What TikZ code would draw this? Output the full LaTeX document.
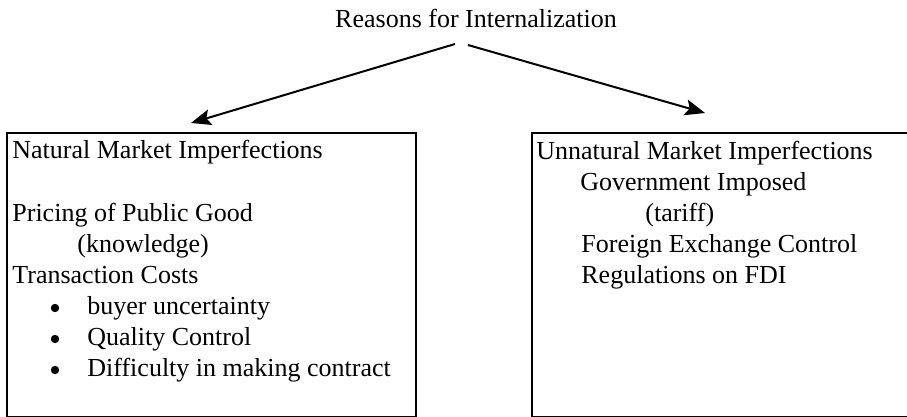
\documentclass[tikz,border=0pt]{standalone}
\usepackage{fontspec}
\setmainfont{Liberation Serif}
\usetikzlibrary{arrows.meta}

\begin{document}
\begin{tikzpicture}[x=0.5pt, y=-0.5pt,
	box/.style={draw, line width=1pt, anchor=north west, inner sep=0pt, minimum height=142pt},
	txt/.style={anchor=base west, inner sep=0pt, font=\fontsize{13}{15.5}\selectfont},
	dot/.style={circle, fill, inner sep=0pt, minimum size=4.2pt},
	arr/.style={line width=1pt, -{Stealth[length=10pt, width=8pt, inset=2pt]}}]
	\clip (0, 0) rectangle (907, 417);

	\node[txt, anchor=base] (reasons) at (476, 28) {Reasons for Internalization};

	\node[box, minimum width=204.5pt] (natural) at (6, 132) {};
	\node[box, minimum width=205pt] (unnatural) at (531, 132) {};

	\coordinate (natStart) at (455, 44);
	\coordinate (natTip) at (191, 123);
	\coordinate (unnatStart) at (468, 45);
	\coordinate (unnatTip) at (705, 113);

	\draw[arr] (natStart) -- (natTip);
	\draw[arr] (unnatStart) -- (unnatTip);

	\node[txt] (natHead) at (12, 159) {Natural Market Imperfections};
	\node[txt] (pricing) at (12, 222) {Pricing of Public Good};
	\node[txt] (knowledge) at (77, 253) {(knowledge)};
	\node[txt] (transaction) at (12, 284) {Transaction Costs};
	\node[dot] (bulletA) at (55, 308) {};
	\node[txt] (buyer) at (87, 315) {buyer uncertainty};
	\node[dot] (bulletB) at (55, 339) {};
	\node[txt] (quality) at (87, 346) {Quality Control};
	\node[dot] (bulletC) at (55, 370) {};
	\node[txt] (difficulty) at (87, 377) {Difficulty in making contract};

	\node[txt] (unnatHead) at (536, 160) {Unnatural Market Imperfections};
	\node[txt] (government) at (580, 191) {Government Imposed};
	\node[txt] (tariff) at (645, 222) {(tariff)};
	\node[txt] (foreign) at (581, 253) {Foreign Exchange Control};
	\node[txt] (regulations) at (581, 284) {Regulations on FDI};

\end{tikzpicture}
\end{document}
